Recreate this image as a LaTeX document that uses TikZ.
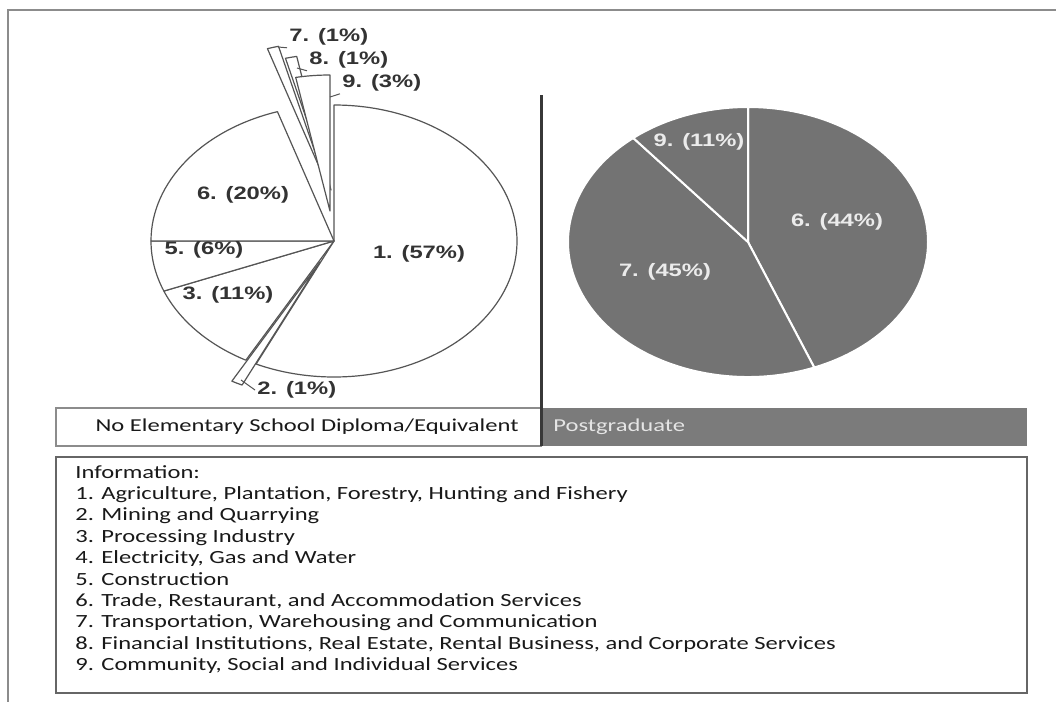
\documentclass[tikz,border=0pt]{standalone}
\usepackage{fontspec}
\setmainfont{Carlito}
\newfontfamily\arialfont{Liberation Sans}
\usepackage{graphicx}
\usetikzlibrary{calc}
\newcommand\sx[1]{\scalebox{1.32}[1]{#1}}
\newcommand\sxh[1]{\scalebox{1.35}[1]{#1}}
\definecolor{pgray}{RGB}{115,115,115}
\definecolor{bargray}{RGB}{123,123,123}
\definecolor{lineg}{RGB}{85,85,85}
\definecolor{frameg}{RGB}{140,140,140}
\begin{document}
\begin{tikzpicture}[x=0.5pt,y=-0.5pt,
  slicel/.style={draw=lineg,fill=white,line width=0.6pt,line join=round},
  slicer/.style={draw=white,fill=pgray,line width=1pt,line join=round},
  pl/.style={font=\arialfont\bfseries\fontsize{9}{10}\selectfont,text=black!80,inner sep=1pt},
  pr/.style={font=\arialfont\bfseries\fontsize{9}{10}\selectfont,text=black!8,inner sep=1pt},
  lg/.style={anchor=base west,font=\fontsize{9.3}{11}\selectfont,text=black!90,inner sep=0pt},
  leader/.style={draw=lineg,line width=0.5pt}]
\useasboundingbox (0,0) rectangle (1056,702);
% outer frame (top and left)
\draw[frameg,line width=1pt] (8,702) -- (8,10) -- (1056,10);
% ---------------- left pie ----------------
\coordinate (C) at (334,241);
\draw[slicel] (C) -- ++(-90:183 and 136) arc[start angle=-90,end angle=115.2,x radius=183,y radius=136] -- cycle;
\draw[slicel] ($(C)+(-14,21)$) -- ++(115.2:183 and 136) arc[start angle=115.2,end angle=118.8,x radius=183,y radius=136] -- cycle;
\draw[slicel] (C) -- ++(118.8:183 and 136) arc[start angle=118.8,end angle=158.4,x radius=183,y radius=136] -- cycle;
\draw[slicel] (C) -- ++(158.4:183 and 136) arc[start angle=158.4,end angle=180,x radius=183,y radius=136] -- cycle;
\draw[slicel] (C) -- ++(180:183 and 136) arc[start angle=180,end angle=252,x radius=183,y radius=136] -- cycle;
\draw[slicel] ($(C)+(-10,-63)$) -- ++(252:183 and 136) arc[start angle=252,end angle=255.6,x radius=183,y radius=136] -- cycle;
\draw[slicel] ($(C)+(-3,-51)$) -- ++(255.6:183 and 136) arc[start angle=255.6,end angle=259.2,x radius=183,y radius=136] -- cycle;
\draw[slicel] ($(C)+(-4,-30)$) -- ++(259.2:183 and 136) arc[start angle=259.2,end angle=270,x radius=183,y radius=136] -- cycle;
% labels
\node[pl] (l1) at (419,254) {\sx{1. (57\%)}};
\node[pl] (l6) at (243,195) {\sx{6. (20\%)}};
\node[pl] (l5) at (204,250) {\sx{5. (6\%)}};
\node[pl] (l3) at (228,295) {\sx{3. (11\%)}};
\node[pl,anchor=west] (l2) at (255,390) {\sx{2. (1\%)}};
\node[pl,anchor=west] (l7) at (287,37) {\sx{7. (1\%)}};
\node[pl,anchor=west] (l8) at (307,60) {\sx{8. (1\%)}};
\node[pl,anchor=west] (l9) at (340,83) {\sx{9. (3\%)}};
\coordinate (c2) at (241,380);
\coordinate (c7) at (278,47);
\coordinate (c8) at (297,68);
\coordinate (c9) at (330,97);
\draw[leader] (c2) -- (l2.west);
\draw[leader] (c7) -- (l7.south west);
\draw[leader] (c8) -- (l8.south west);
\draw[leader] (c9) -- (l9.south west);
% ---------------- right pie ----------------
\coordinate (D) at (748,242);
\draw[slicer] (D) -- ++(-90:180 and 135) arc[start angle=-90,end angle=68.4,x radius=180,y radius=135] -- cycle;
\draw[slicer] (D) -- ++(68.4:180 and 135) arc[start angle=68.4,end angle=230.4,x radius=180,y radius=135] -- cycle;
\draw[slicer] (D) -- ++(230.4:180 and 135) arc[start angle=230.4,end angle=270,x radius=180,y radius=135] -- cycle;
\node[pr] (r6) at (837,222) {\sx{6. (44\%)}};
\node[pr] (r7) at (665,272) {\sx{7. (45\%)}};
\node[pr] (r9) at (699,142) {\sx{9. (11\%)}};
% ---------------- header bars ----------------
\draw[frameg,line width=0.8pt,fill=white] (56,408) rectangle (541,446);
\fill[bargray] (541,408) rectangle (1027,446);
\draw[black!78,line width=1.5pt] (541,95) -- (541,446);
\node[anchor=east,font=\fontsize{9.1}{11}\selectfont,text=black!90,inner sep=0pt] (hl) at (519,427) {\sxh{No Elementary School Diploma/Equivalent}};
\node[anchor=west,font=\fontsize{9.1}{11}\selectfont,text=black!10,inner sep=0pt] (hr) at (553,427) {\sxh{Postgraduate}};
% ---------------- legend box ----------------
\draw[black!60,line width=1pt] (56,457) rectangle (1027,693);
\node[lg] (i0) at (75,478) {\sx{Information:}};
\node[lg] (i1) at (75,499.4) {\sx{1. Agriculture, Plantation, Forestry, Hunting and Fishery}};
\node[lg] (i2) at (75,520.8) {\sx{2. Mining and Quarrying}};
\node[lg] (i3) at (75,542.2) {\sx{3. Processing Industry}};
\node[lg] (i4) at (75,563.6) {\sx{4. Electricity, Gas and Water}};
\node[lg] (i5) at (75,585) {\sx{5. Construction}};
\node[lg] (i6) at (75,606.4) {\sx{6. Trade, Restaurant, and Accommodation Services}};
\node[lg] (i7) at (75,627.8) {\sx{7. Transportation, Warehousing and Communication}};
\node[lg] (i8) at (75,649.2) {\sx{8. Financial Institutions, Real Estate, Rental Business, and Corporate Services}};
\node[lg] (i9) at (75,670.6) {\sx{9. Community, Social and Individual Services}};
\end{tikzpicture}
\end{document}
